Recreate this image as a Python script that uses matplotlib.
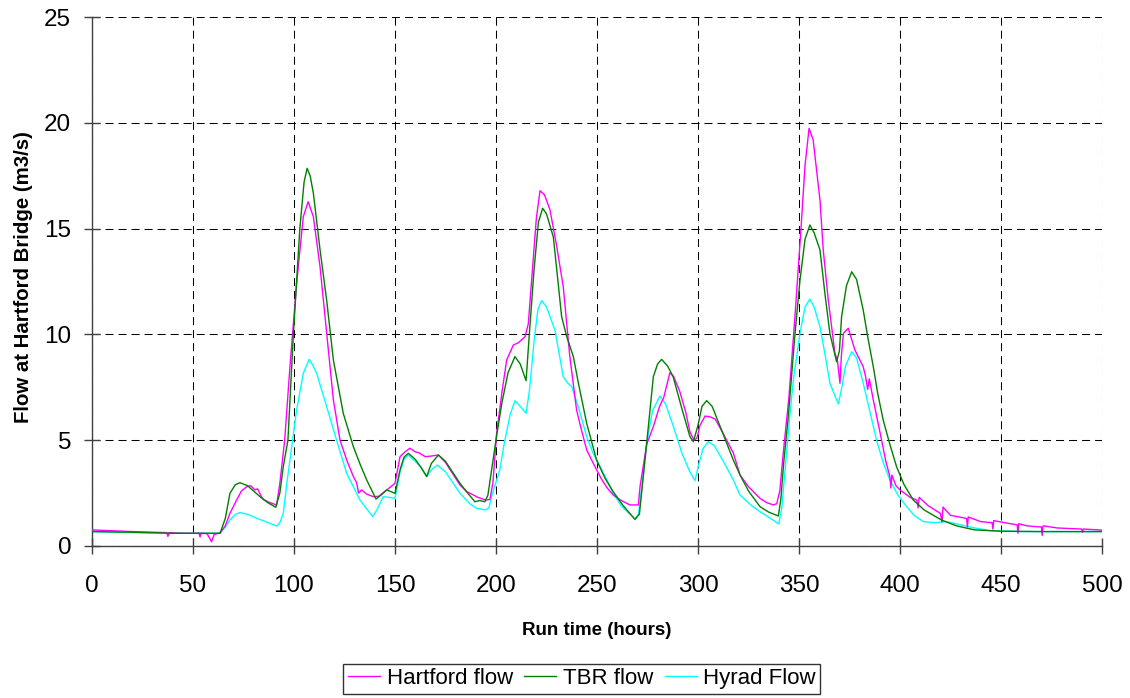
import matplotlib
matplotlib.use("Agg")
import matplotlib.pyplot as plt

plt.rcParams['font.family'] = ['Liberation Sans', 'DejaVu Sans']

hartford_hours = [0, 10, 20, 30, 37, 37.6, 38.2, 45, 50, 53, 53.5, 54, 57, 59.2, 60.5, 63.4, 66, 68.3, 71.6, 74,
                  76.6, 78.5, 80.7, 82, 83.5, 84.8, 88, 91.4, 93, 95.4, 98, 101.3, 104.6, 107, 109.6, 112.9, 116.2,
                  119.5, 122.8, 126.1, 129.4, 131, 132, 133.5, 136, 139.3, 142, 145.9, 150, 152.5, 155, 157.4, 160,
                  162, 165, 168, 171.5, 175, 178, 182.2, 185.5, 188, 191, 195, 197, 198.5, 200.3, 203, 205.3, 208.6,
                  211, 214.4, 216, 218, 220, 221.8, 224, 226.7, 230, 233.3, 236.5, 239.9, 242, 244.9, 248.2, 252,
                  255, 258, 262, 266.3, 270.5, 271.3, 274.6, 277.9, 281, 283, 286.1, 288, 291, 294, 296, 298, 299.5,
                  301, 303.5, 306, 308.5, 312, 317.5, 320.8, 325, 330.7, 334, 337.3, 339, 340.5, 342.2, 345, 348,
                  351, 353, 355, 357, 360.4, 362, 364.5, 367.8, 369, 370.3, 371, 372, 374.4, 377.7, 381.8, 383, 384,
                  384.8, 386.8, 390.9, 393, 395, 395.5, 396, 398, 400, 405, 408.3, 409, 409.5, 414, 420, 420.8,
                  421.3, 425, 433, 433.4, 433.8, 440, 445.6, 446, 446.4, 453, 458, 458.4, 458.8, 463, 468, 470,
                  470.4, 470.8, 478, 485, 490, 490.4, 490.8, 500]
hartford_flow = [0.76, 0.72, 0.68, 0.65, 0.63, 0.45, 0.63, 0.6, 0.6, 0.6, 0.42, 0.6, 0.58, 0.2, 0.55, 0.62, 0.95, 1.54,
                 2.17, 2.6, 2.8, 2.85, 2.65, 2.7, 2.4, 2.2, 2.05, 1.94, 2.96, 5.0, 8.47, 12.4, 15.56, 16.27, 15.56,
                 13.2, 10.05, 6.9, 5.0, 4.06, 3.28, 3.0, 2.5, 2.65, 2.45, 2.33, 2.35, 2.65, 2.96, 4.22, 4.45, 4.62,
                 4.45, 4.4, 4.22, 4.25, 4.3, 3.95, 3.5, 2.88, 2.57, 2.45, 2.3, 2.17, 2.2, 3.0, 5.3, 7.3, 8.79, 9.5,
                 9.6, 9.89, 10.5, 13.0, 15.5, 16.79, 16.6, 15.9, 14.2, 12.25, 9.0, 6.43, 5.6, 4.54, 3.9, 3.2, 2.75,
                 2.41, 2.15, 1.94, 1.94, 2.8, 4.8, 5.64, 6.6, 7.0, 8.19, 8.0, 7.3, 6.3, 5.4, 5.0, 5.1, 5.7, 6.14,
                 6.1, 6.0, 5.4, 4.4, 3.36, 2.8, 2.25, 2.05, 1.94, 2.0, 2.6, 4.38, 7.0, 10.84, 15.0, 18.0, 19.74,
                 19.2, 16.35, 14.0, 11.63, 9.1, 8.8, 7.69, 9.0, 10.05, 10.29, 9.26, 8.47, 8.0, 7.4, 7.9, 6.9, 5.0,
                 4.0, 3.28, 2.74, 3.35, 2.85, 2.65, 2.3, 2.17, 1.8, 2.3, 1.9, 1.54, 1.13, 1.84, 1.45, 1.3, 0.9,
                 1.37, 1.15, 1.1, 0.8, 1.2, 1.08, 1.0, 0.6, 1.05, 0.95, 0.91, 0.9, 0.5, 0.95, 0.85, 0.82, 0.8,
                 0.65, 0.8, 0.75]

tbr_hours = [0, 20, 40, 55, 63.4, 66, 68.3, 71, 73.3, 77, 80, 83.2, 87, 91, 93, 94.7, 97, 99.7, 102.9, 105, 106.5,
             108, 109.6, 112.9, 116.2, 119.5, 124.4, 129.4, 133, 136, 140.6, 143, 145.9, 150, 152.5, 154.5, 156.6,
             160, 163, 165.7, 168, 171.5, 175, 182.2, 186, 189.6, 192, 194.5, 196, 200.3, 203, 206, 209.4, 212,
             214.9, 216.5, 218.8, 221, 223.1, 225, 228.4, 232.5, 235, 238.3, 241, 244.9, 249.8, 254, 258, 263,
             268.8, 271, 274.6, 277.9, 280, 282, 285, 287.7, 292, 296, 297.7, 300, 302, 304.3, 307, 312, 317.5,
             320.8, 325, 330.7, 335, 339.8, 341, 342.5, 344.7, 348, 350.5, 353, 355.4, 357.5, 360.4, 363, 365.3,
             368.6, 370, 371.1, 373.5, 376.1, 378.5, 381.8, 384, 386.8, 389, 391.7, 395, 398.3, 402, 406.6, 412,
             420.5, 428, 437, 450, 470, 500]
tbr_flow = [0.68, 0.65, 0.6, 0.6, 0.6, 1.3, 2.49, 2.9, 2.99, 2.85, 2.6, 2.33, 2.05, 1.83, 2.5, 3.75, 5.0, 10.0, 15.0,
            17.2, 17.85, 17.5, 16.67, 14.0, 11.6, 8.79, 6.27, 4.69, 3.8, 3.12, 2.22, 2.4, 2.65, 2.49, 3.6, 4.2, 4.38,
            4.1, 3.7, 3.28, 3.9, 4.3, 4.0, 2.96, 2.5, 2.09, 2.15, 2.09, 2.4, 5.2, 6.8, 8.2, 8.95, 8.6, 7.81, 10.0,
            13.0, 15.3, 15.96, 15.7, 14.6, 10.84, 9.9, 8.95, 7.6, 5.8, 4.06, 3.2, 2.57, 1.9, 1.26, 1.5, 4.85, 8.0,
            8.6, 8.82, 8.5, 8.0, 6.5, 5.17, 4.93, 5.7, 6.6, 6.87, 6.6, 5.4, 4.06, 3.36, 2.6, 1.86, 1.6, 1.42, 2.2,
            4.0, 6.11, 10.0, 12.57, 14.5, 15.17, 14.8, 13.99, 11.8, 10.05, 8.71, 9.2, 10.84, 12.3, 12.96, 12.6,
            11.15, 9.9, 8.47, 7.2, 5.95, 4.8, 3.75, 2.9, 2.17, 1.7, 1.23, 0.95, 0.76, 0.7, 0.68, 0.68]

hyrad_hours = [0, 20, 40, 55, 63.4, 66, 68.3, 71, 73.3, 77, 81.5, 86, 91.5, 93, 94.7, 96.5, 98, 101.3, 104.6, 107.5,
               109, 111.2, 116.2, 121.1, 126.1, 132.7, 136, 139, 141, 144.2, 147, 150, 152.5, 154.5, 156.6, 160,
               163, 165.7, 168, 171, 175, 182.2, 187, 190, 194.5, 196.5, 198, 201.9, 204, 207, 209.4, 212, 214.9,
               216.5, 219, 220.8, 222.6, 225, 229.2, 233.3, 235.5, 237.5, 241, 244.9, 248, 251.5, 255, 258, 262,
               268.8, 270.5, 272.5, 274.6, 277.5, 281.2, 284, 288, 292, 296, 298.5, 300.5, 302.5, 305.1, 308, 312,
               317.5, 320.8, 326, 331, 336, 340, 341.5, 343.5, 345.5, 347.2, 350.5, 353, 355.4, 357.5, 360.4, 363,
               365.3, 369.5, 371, 373, 376.1, 378.5, 381.8, 385, 388.4, 391.5, 395, 399, 403.3, 407, 411.6, 417,
               423, 430, 437, 445, 460, 500]
hyrad_flow = [0.68, 0.63, 0.6, 0.6, 0.6, 0.9, 1.23, 1.5, 1.58, 1.5, 1.31, 1.15, 0.94, 1.1, 1.54, 3.0, 4.06, 6.43,
              8.16, 8.82, 8.6, 8.16, 6.58, 5.0, 3.43, 2.17, 1.75, 1.39, 1.7, 2.33, 2.3, 2.25, 3.5, 4.1, 4.3, 4.0,
              3.7, 3.28, 3.6, 3.83, 3.5, 2.49, 2.0, 1.8, 1.7, 1.8, 2.4, 3.6, 4.8, 6.2, 6.87, 6.6, 6.27, 7.3, 9.8,
              11.2, 11.6, 11.3, 10.2, 8.0, 7.7, 7.53, 6.5, 5.17, 4.4, 3.75, 3.1, 2.49, 1.9, 1.26, 1.5, 3.0, 4.85,
              6.4, 7.09, 6.7, 5.6, 4.4, 3.5, 3.09, 3.9, 4.6, 4.93, 4.75, 4.1, 3.12, 2.41, 1.95, 1.6, 1.3, 1.04,
              1.8, 4.0, 6.2, 7.84, 10.05, 11.3, 11.67, 11.3, 10.36, 9.0, 7.69, 6.71, 7.4, 8.5, 9.18, 8.9, 7.69,
              6.4, 5.0, 4.0, 3.12, 2.4, 1.86, 1.45, 1.15, 1.1, 1.15, 1.0, 0.85, 0.72, 0.68, 0.68]

x_ticks = list(range(0, 501, 50))
y_ticks = list(range(0, 26, 5))

fig = plt.figure(figsize=(11.3, 6.98), dpi=100)
ax = fig.add_axes([0.0814, 0.2178, 0.8938, 0.7578])

ax.plot(hartford_hours, hartford_flow, color='#FF00FF', lw=1.0, label='Hartford flow', zorder=3)
ax.plot(tbr_hours, tbr_flow, color='#008000', lw=1.0, label='TBR flow', zorder=4)
ax.plot(hyrad_hours, hyrad_flow, color='#00FFFF', lw=1.0, label='Hyrad Flow', zorder=2)

ax.set_xlim(0, 500)
ax.set_ylim(0, 25)
ax.set_xticks(x_ticks)
ax.set_yticks(y_ticks)
ax.grid(True, color='black', linestyle=(0, (7.7, 4.8)), linewidth=0.75, zorder=1)
ax.set_axisbelow(True)

for s in ['top', 'right']:
    ax.spines[s].set_visible(False)
for s in ['left', 'bottom']:
    ax.spines[s].set_color('#404040')
    ax.spines[s].set_linewidth(1.0)

ax.tick_params(axis='both', direction='inout', length=11, width=1.0, color='#404040', labelsize=17.5)
ax.tick_params(axis='x', pad=15.5)
ax.tick_params(axis='y', pad=9.5)

ax.set_xlabel('Run time (hours)', fontsize=13.5, fontweight='bold', labelpad=18)
ax.set_ylabel('Flow at Hartford Bridge (m3/s)', fontsize=14.7, fontweight='bold')
ax.yaxis.set_label_coords(-0.058, 0.509)

leg = fig.legend(loc='upper center', bbox_to_anchor=(0.515, 0.049), ncol=3, fontsize=16,
                 frameon=True, fancybox=False, edgecolor='black', handlelength=1.45,
                 handletextpad=0.3, columnspacing=0.5, borderpad=0.2, borderaxespad=0)
leg.get_frame().set_linewidth(1.0)

fig.savefig('out.png', dpi=100)
